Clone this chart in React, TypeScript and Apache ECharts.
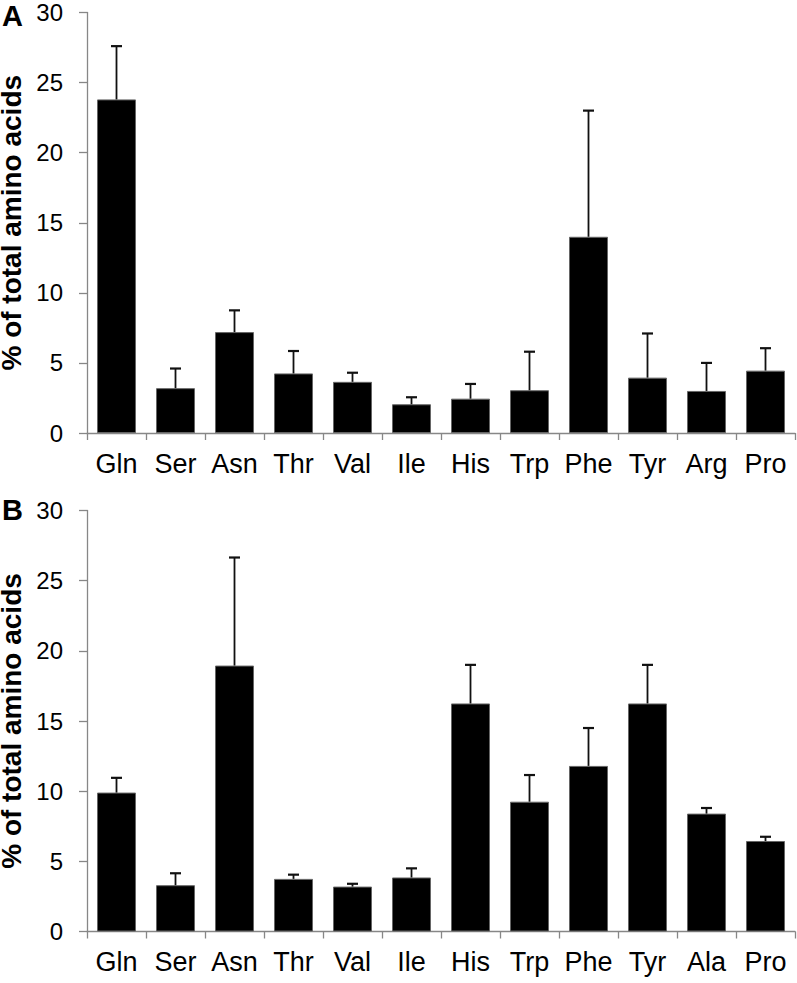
import React, { useEffect, useRef } from "react";
import * as echarts from "echarts";

const categoriesA = ["Gln", "Ser", "Asn", "Thr", "Val", "Ile", "His", "Trp", "Phe", "Tyr", "Arg", "Pro"];
const valuesA = [23.8, 3.2, 7.2, 4.25, 3.65, 2.05, 2.45, 3.05, 14.0, 3.95, 3.0, 4.45];
const errorsA = [3.8, 1.4, 1.55, 1.6, 0.65, 0.5, 1.05, 2.75, 9.0, 3.15, 2.0, 1.6];

const categoriesB = ["Gln", "Ser", "Asn", "Thr", "Val", "Ile", "His", "Trp", "Phe", "Tyr", "Ala", "Pro"];
const valuesB = [9.9, 3.3, 18.95, 3.75, 3.2, 3.85, 16.25, 9.25, 11.8, 16.25, 8.4, 6.45];
const errorsB = [1.05, 0.85, 7.7, 0.3, 0.2, 0.65, 2.75, 1.9, 2.7, 2.75, 0.4, 0.3];

const yTicks = [0, 5, 10, 15, 20, 25, 30];
const yTitle = "% of total amino acids";
const panelLabels = ["A", "B"];

const FONT = "'Liberation Sans', Arial, sans-serif";
const AXIS_GRAY = "#878787";

function errorRender(params: any, api: any) {
  const x = api.value(0);
  const v = api.value(1);
  const e = api.value(2);
  const p0 = api.coord([x, v]);
  const p1 = api.coord([x, v + e]);
  const half = 5.5;
  return {
    type: "group",
    children: [
      { type: "line", shape: { x1: p0[0], y1: p0[1], x2: p1[0], y2: p1[1] }, style: { stroke: "#111", lineWidth: 1.8 } },
      { type: "line", shape: { x1: p1[0] - half, y1: p1[1], x2: p1[0] + half, y2: p1[1] }, style: { stroke: "#111", lineWidth: 2.2 } },
    ],
  };
}

export default function App() {
  const ref = useRef<HTMLDivElement>(null);
  useEffect(() => {
    if (!ref.current) return;
    const chart = echarts.init(ref.current, null, { renderer: "svg" });
    const grids = [
      { left: 87, top: 12.5, width: 708, height: 420.5, containLabel: false, outerBoundsMode: "none" },
      { left: 87, top: 510.5, width: 708, height: 421, containLabel: false, outerBoundsMode: "none" },
    ];
    const cats = [categoriesA, categoriesB];
    const vals = [valuesA, valuesB];
    const errs = [errorsA, errorsB];
    const xAxis = cats.map((c, i) => ({
      type: "category",
      gridIndex: i,
      data: c,
      boundaryGap: true,
      axisLine: { lineStyle: { color: AXIS_GRAY, width: 1.3 } },
      axisTick: { show: true, length: 7, alignWithLabel: false, lineStyle: { color: AXIS_GRAY, width: 1.3 } },
      axisLabel: { interval: 0, color: "#000", fontSize: 27, fontFamily: FONT, margin: 17 },
    }));
    const yAxis = [0, 1].map((i) => ({
      type: "value",
      gridIndex: i,
      min: yTicks[0],
      max: yTicks[yTicks.length - 1],
      interval: 5,
      name: yTitle,
      nameLocation: "middle",
      nameGap: 54,
      nameTextStyle: { fontSize: 28, fontWeight: "bold", fontFamily: FONT, color: "#000" },
      splitLine: { show: false },
      axisLine: { show: true, lineStyle: { color: AXIS_GRAY, width: 1.3 } },
      axisTick: { show: true, length: 8, lineStyle: { color: AXIS_GRAY, width: 1.3 } },
      axisLabel: { color: "#000", fontSize: 24, fontFamily: FONT, margin: 24 },
    }));
    const series: any[] = [];
    [0, 1].forEach((i) => {
      series.push({
        type: "bar",
        xAxisIndex: i,
        yAxisIndex: i,
        data: vals[i],
        barWidth: 39,
        itemStyle: { color: "#000", borderColor: "#666", borderWidth: 1 },
        z: 2,
      });
      series.push({
        type: "custom",
        xAxisIndex: i,
        yAxisIndex: i,
        renderItem: errorRender,
        encode: { x: 0, y: 1 },
        data: vals[i].map((v, j) => [j, v, errs[i][j]]),
        z: 3,
      });
    });
    chart.setOption({
      animation: false,
      backgroundColor: "#fff",
      grid: grids,
      xAxis,
      yAxis,
      series,
      graphic: [
        { type: "text", left: 2, top: 1, style: { text: panelLabels[0], fontSize: 29, fontWeight: "bold", fontFamily: FONT, fill: "#000" } },
        { type: "text", left: 2, top: 495, style: { text: panelLabels[1], fontSize: 29, fontWeight: "bold", fontFamily: FONT, fill: "#000" } },
      ],
    });
    return () => chart.dispose();
  }, []);
  return <div ref={ref} style={{ position: "fixed", left: 0, top: 0, width: 797, height: 983, background: "#fff" }} />;
}
